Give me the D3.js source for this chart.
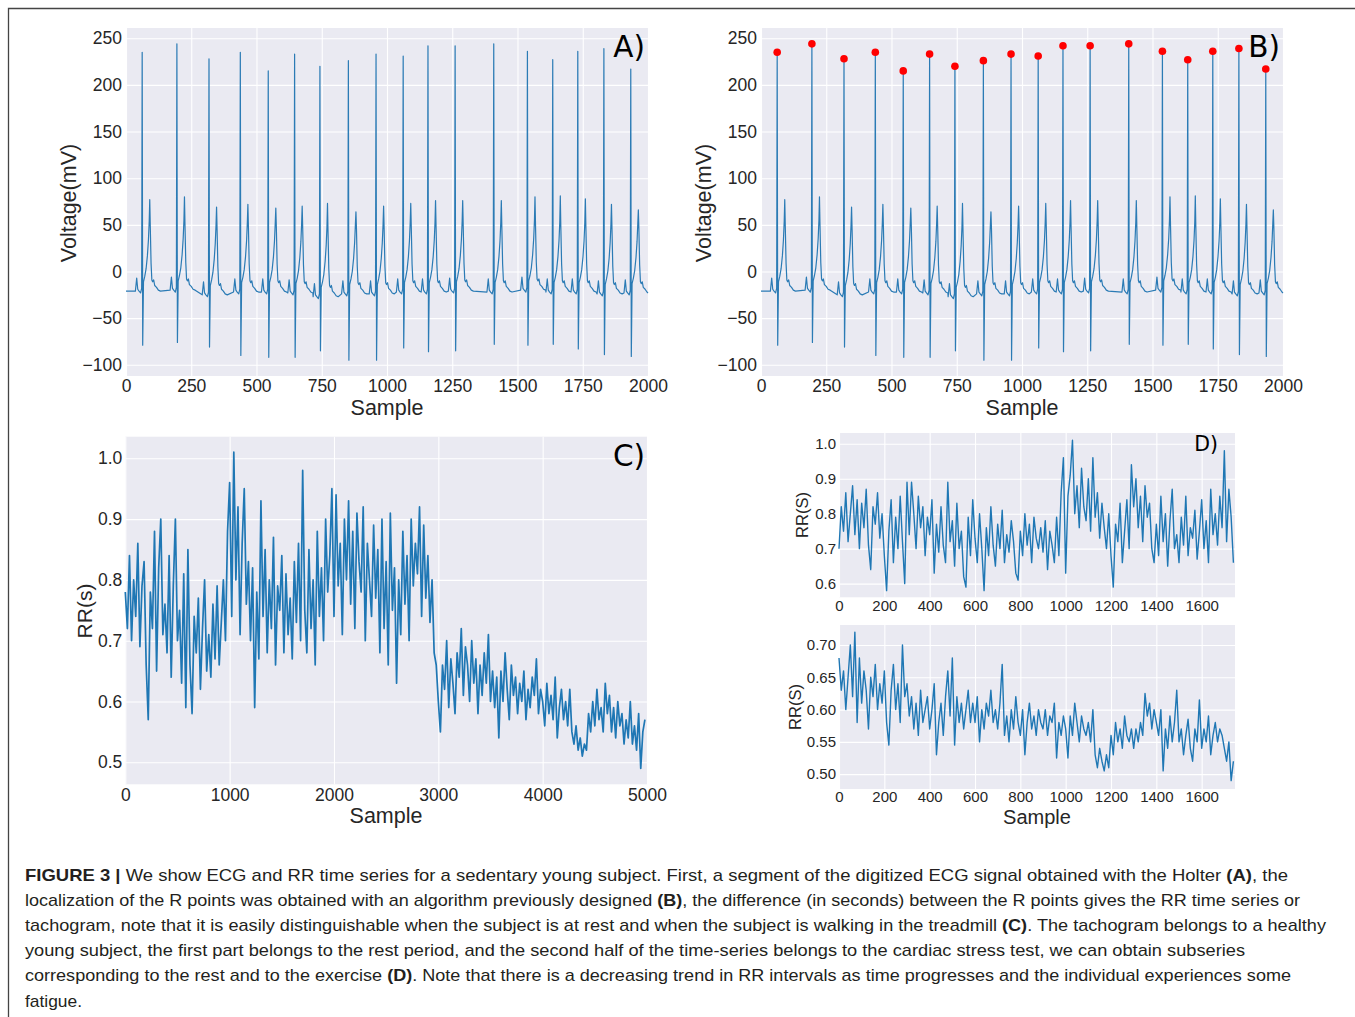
<!DOCTYPE html>
<html>
<head>
<meta charset="utf-8">
<script src="https://cdn.jsdelivr.net/npm/d3@7"></script>
<style>
body { margin: 0; background: #fff; }
svg text { font-family: "Liberation Sans", Arial, sans-serif; }
</style>
</head>
<body>
<svg id="fig" width="1355" height="1017"></svg>
<script>
// ECG segment (panels A and B): one entry per heart beat
const rPeakSample = [62, 195, 318, 438, 545, 646, 743, 852, 958, 1062, 1157, 1261, 1409, 1538, 1635, 1731, 1831, 1934];
const rPeakMv = [235, 244, 228, 235, 215, 233, 220, 226, 233, 231, 242, 242, 244, 236, 227, 236, 239, 217];
const sWaveMv = [-79, -76, -81, -90, -92, -92, -85, -95, -95, -82, -86, -85, -78, -79, -78, -83, -89, -91];
const tWaveMv = [77, 80, 69, 72, 68, 70, 73, 64, 70, 73, 76, 76, 76, 80, 81, 78, 72, 66];
const baselineMv = [-21, -20, -25, -22, -22, -23, -27, -24, -24, -22, -22, -21, -22, -20, -22, -22, -24, -23];
// shape of one beat: offset from R (samples) and level above baseline (mV)
const beatOffset = [-26, -21, -17, -12, -6, -2, 0, 2, 5, 10, 15, 20, 24, 27, 29, 31, 34, 37, 40, 44, 48, 55, 62, 70];
const beatShape = [0, 14, 2, 0, -2, 3, "R", "S", 10, 16, 24, 38, 55, 75, "T", 70, 30, 12, 10, 12, 6, 4, 1, 0];

// RR tachogram (panel C), one value every 20 samples
const rrStep = 20;
const rrAll = [
  0.78,0.72,0.84,0.70,0.80,0.74,0.86,0.69,0.79,0.83,
  0.66,0.57,0.78,0.72,0.88,0.65,0.82,0.90,0.71,0.76,
  0.68,0.84,0.64,0.79,0.90,0.70,0.75,0.63,0.81,0.59,
  0.85,0.66,0.58,0.74,0.68,0.77,0.62,0.72,0.80,0.65,
  0.71,0.64,0.76,0.67,0.79,0.66,0.73,0.80,0.70,0.88,
  0.96,0.74,1.01,0.80,0.92,0.71,0.86,0.95,0.76,0.83,
  0.70,0.82,0.59,0.78,0.67,0.93,0.74,0.85,0.68,0.80,
  0.72,0.87,0.66,0.79,0.75,0.84,0.68,0.81,0.71,0.77,
  0.67,0.83,0.73,0.86,0.70,0.98,0.75,0.68,0.85,0.72,
  0.80,0.66,0.88,0.74,0.82,0.70,0.90,0.78,0.84,0.95,
  0.74,0.94,0.79,0.86,0.71,0.90,0.80,0.93,0.76,0.88,
  0.72,0.91,0.83,0.78,0.92,0.70,0.86,0.80,0.74,0.89,
  0.77,0.85,0.68,0.90,0.72,0.83,0.66,0.91,0.75,0.82,
  0.63,0.80,0.71,0.88,0.76,0.84,0.70,0.90,0.79,0.86,
  0.81,0.92,0.74,0.89,0.77,0.84,0.73,0.80,0.68,0.66,
  0.60,0.55,0.66,0.62,0.70,0.59,0.67,0.63,0.58,0.68,
  0.64,0.72,0.61,0.69,0.66,0.60,0.70,0.63,0.67,0.58,
  0.66,0.61,0.68,0.63,0.71,0.60,0.65,0.59,0.64,0.54,
  0.65,0.60,0.68,0.62,0.57,0.66,0.61,0.64,0.58,0.63,
  0.60,0.65,0.57,0.62,0.59,0.64,0.61,0.67,0.58,0.62,
  0.60,0.56,0.63,0.58,0.61,0.57,0.64,0.54,0.59,0.62,
  0.57,0.60,0.56,0.62,0.55,0.53,0.56,0.52,0.54,0.51,
  0.53,0.52,0.58,0.55,0.60,0.56,0.62,0.57,0.59,0.55,
  0.63,0.58,0.61,0.55,0.59,0.54,0.60,0.56,0.58,0.53,
  0.57,0.54,0.60,0.53,0.56,0.52,0.58,0.49,0.55,0.57
];

// RR subseries (panel D), one value every 10 samples
const subStep = 10;
const rrRest = [
  0.70,0.82,0.75,0.86,0.72,0.80,0.88,0.74,0.84,0.70,
  0.83,0.76,0.87,0.71,0.64,0.82,0.77,0.86,0.73,0.80,
  0.68,0.58,0.75,0.84,0.66,0.79,0.70,0.85,0.72,0.60,
  0.89,0.74,0.89,0.80,0.70,0.85,0.76,0.82,0.68,0.79,
  0.74,0.84,0.63,0.77,0.69,0.82,0.71,0.66,0.89,0.72,
  0.78,0.65,0.83,0.70,0.75,0.62,0.59,0.79,0.68,0.84,
  0.73,0.66,0.80,0.70,0.58,0.76,0.68,0.82,0.71,0.65,
  0.77,0.70,0.81,0.66,0.74,0.69,0.78,0.72,0.63,0.61,
  0.75,0.68,0.80,0.71,0.77,0.66,0.79,0.73,0.70,0.76,
  0.69,0.78,0.64,0.75,0.71,0.66,0.79,0.68,0.86,0.96,
  0.63,0.85,0.91,1.01,0.80,0.88,0.76,0.93,0.82,0.78,
  0.90,0.75,0.96,0.79,0.86,0.73,0.83,0.76,0.70,0.80,
  0.68,0.59,0.77,0.72,0.83,0.66,0.75,0.84,0.70,0.94,
  0.82,0.90,0.76,0.85,0.72,0.88,0.79,0.83,0.70,0.66,
  0.77,0.68,0.85,0.72,0.80,0.65,0.78,0.87,0.70,0.74,
  0.66,0.79,0.71,0.85,0.68,0.76,0.73,0.81,0.67,0.75,
  0.84,0.70,0.78,0.66,0.87,0.74,0.80,0.71,0.85,0.76,
  0.98,0.72,0.87,0.79,0.66
];
const rrExercise = [
  0.68,0.63,0.66,0.60,0.65,0.70,0.62,0.72,0.58,0.68,
  0.61,0.66,0.63,0.57,0.65,0.62,0.67,0.60,0.64,0.61,
  0.66,0.58,0.545,0.63,0.67,0.60,0.64,0.58,0.70,0.62,
  0.64,0.59,0.62,0.57,0.61,0.56,0.63,0.58,0.60,0.62,
  0.57,0.60,0.64,0.53,0.58,0.61,0.56,0.62,0.66,0.59,
  0.68,0.545,0.62,0.58,0.61,0.57,0.60,0.63,0.58,0.61,
  0.58,0.62,0.55,0.60,0.57,0.61,0.59,0.63,0.58,0.60,
  0.57,0.61,0.67,0.56,0.59,0.55,0.60,0.57,0.62,0.58,
  0.56,0.60,0.53,0.58,0.61,0.57,0.59,0.56,0.60,0.58,
  0.57,0.60,0.56,0.59,0.58,0.61,0.525,0.58,0.56,0.59,
  0.57,0.525,0.59,0.56,0.61,0.58,0.55,0.59,0.57,0.56,
  0.58,0.55,0.60,0.53,0.51,0.54,0.52,0.505,0.53,0.51,
  0.56,0.53,0.58,0.55,0.57,0.54,0.59,0.56,0.55,0.57,
  0.54,0.57,0.55,0.58,0.56,0.625,0.59,0.61,0.57,0.60,
  0.58,0.56,0.60,0.505,0.57,0.54,0.59,0.55,0.58,0.63,
  0.55,0.57,0.53,0.56,0.585,0.54,0.52,0.57,0.55,0.615,
  0.54,0.57,0.55,0.59,0.53,0.56,0.58,0.55,0.57,0.56,
  0.54,0.52,0.55,0.49,0.52
];

const ecgXTicks = d3.range(0, 2001, 250);
const ecgYTicks = [-100, -50, 0, 50, 100, 150, 200, 250];
const rrXTicks = [0, 1000, 2000, 3000, 4000, 5000];
const rrYTicks = [0.5, 0.6, 0.7, 0.8, 0.9, 1.0];
const subXTicks = d3.range(0, 1601, 200);
const restYTicks = [0.6, 0.7, 0.8, 0.9, 1.0];
const exerciseYTicks = [0.50, 0.55, 0.60, 0.65, 0.70];

const captionLines = [
  [["FIGURE 3 | ", true], ["We show ECG and RR time series for a sedentary young subject. First, a segment of the digitized ECG signal obtained with the Holter ", false], ["(A)", true], [", the", false]],
  [["localization of the R points was obtained with an algorithm previously designed ", false], ["(B)", true], [", the difference (in seconds) between the R points gives the RR time series or", false]],
  [["tachogram, note that it is easily distinguishable when the subject is at rest and when the subject is walking in the treadmill ", false], ["(C)", true], [". The tachogram belongs to a healthy", false]],
  [["young subject, the first part belongs to the rest period, and the second half of the time-series belongs to the cardiac stress test, we can obtain subseries", false]],
  [["corresponding to the rest and to the exercise ", false], ["(D)", true], [". Note that there is a decreasing trend in RR intervals as time progresses and the individual experiences some", false]],
  [["fatigue.", false]]
];
const captionEnds = [1288, 1300, 1326, 1245, 1291, 82];

const svg = d3.select("#fig");
const ink = "#262626";
const blue = "#1f77b4";

// frame of the figure
svg.append("path").attr("d", "M8.5,1017V8.5H1355").attr("fill", "none").attr("stroke", "#444").attr("stroke-width", 1.3);

function panel(box, xDomain, yDomain, xTicks, yTicks, yFmt, fs, pad) {
    let x = d3.scaleLinear().domain(xDomain).range([box.left, box.right]);
    let y = d3.scaleLinear().domain(yDomain).range([box.bottom, box.top]);
    let g = svg.append("g");
    g.append("rect").attr("x", box.left).attr("y", box.top).attr("width", box.right - box.left).attr("height", box.bottom - box.top).attr("fill", "#eaeaf2");
    let xa = g.append("g").attr("transform", "translate(0," + box.bottom + ")")
        .call(d3.axisBottom(x).tickValues(xTicks).tickFormat(d3.format("d")).tickSize(-(box.bottom - box.top)).tickPadding(pad[0]));
    let ya = g.append("g").attr("transform", "translate(" + box.left + ",0)")
        .call(d3.axisLeft(y).tickValues(yTicks).tickFormat(d3.format(yFmt)).tickSize(-(box.right - box.left)).tickPadding(pad[1]));
    [xa, ya].forEach(a => {
        a.select(".domain").remove();
        a.selectAll("line").attr("stroke", "#fff").attr("stroke-width", 1.1);
        a.selectAll("text").attr("fill", ink).style("font-size", fs + "px").style("font-family", "'Liberation Sans', Arial, sans-serif");
    });
    return {g: g, x: x, y: y};
}

function label(txt, x, y, fs, rotate) {
    let t = svg.append("text").attr("transform", "translate(" + x + "," + y + ")" + (rotate ? " rotate(-90)" : ""))
        .attr("text-anchor", "middle").attr("fill", ink).style("font-size", fs + "px").text(txt);
    if (rotate) t.attr("dy", "0.35em");
    return t;
}

function panelTag(txt, right, baseline, fs) {
    svg.append("text").attr("x", right).attr("y", baseline).attr("text-anchor", "end").attr("fill", "#000")
        .style("font-size", fs + "px").style("font-family", "'DejaVu Sans', sans-serif").text(txt);
}

function buildEcg() {
    let pts = [[0, baselineMv[0]]];
    rPeakSample.forEach((r, i) => {
        let next = i < rPeakSample.length - 1 ? rPeakSample[i + 1] - 26 : 2000;
        beatOffset.forEach((off, j) => {
            let s = r + off;
            if (off > 0 && s >= next) return;
            let shape = beatShape[j];
            let v = shape === "R" ? rPeakMv[i] : shape === "S" ? sWaveMv[i] : shape === "T" ? tWaveMv[i] : baselineMv[i] + shape;
            pts.push([s, v]);
        });
    });
    pts.push([2000, baselineMv[baselineMv.length - 1]]);
    return pts;
}

const ecg = buildEcg();

// panels A and B
[126, 761].forEach((left, k) => {
    let p = panel({left: left, right: left + 522, top: 28, bottom: 376}, [0, 2000], [-112, 261], ecgXTicks, ecgYTicks, "d", 17.5, [4, 4]);
    p.g.append("path").datum(ecg).attr("fill", "none").attr("stroke", "#2b7bb5").attr("stroke-width", 1.2).attr("stroke-linejoin", "round")
        .attr("d", d3.line().x(d => p.x(d[0])).y(d => p.y(d[1])));
    if (k === 1) {
        p.g.selectAll("circle").data(rPeakSample).join("circle")
            .attr("cx", d => p.x(d)).attr("cy", (d, i) => p.y(rPeakMv[i])).attr("r", 3.8).attr("fill", "#ff0000");
    }
    label("Sample", left + 261, 414.5, 21.5);
    label("Voltage(mV)", left - 58, 203, 21.5, true);
});
panelTag("A)", 645, 56.5, 29.5);
panelTag("B)", 1280, 56.5, 29.5);

// panel C
let pc = panel({left: 125.3, right: 647, top: 436.7, bottom: 784.3}, [0, 5000], [0.4638, 1.0355], rrXTicks, rrYTicks, ".1f", 17.5, [4, 3]);
pc.g.append("path").datum(rrAll).attr("fill", "none").attr("stroke", blue).attr("stroke-width", 1.7).attr("stroke-linejoin", "round")
    .attr("d", d3.line().x((d, i) => pc.x(i * rrStep)).y(d => pc.y(d)));
label("Sample", 386, 822.5, 21.5);
label("RR(s)", 85, 611, 21, true);
panelTag("C)", 645, 466, 29.5);

// panel D, rest then exercise
let pd1 = panel({left: 839, right: 1235, top: 433, bottom: 597.3}, [0, 1747], [0.561, 1.0306], subXTicks, restYTicks, ".1f", 15, [3, 3]);
pd1.g.append("path").datum(rrRest).attr("fill", "none").attr("stroke", blue).attr("stroke-width", 1.4).attr("stroke-linejoin", "round")
    .attr("d", d3.line().x((d, i) => pd1.x(i * subStep)).y(d => pd1.y(d)));
label("RR(S)", 802, 515, 16.5, true);
panelTag("D)", 1218, 451, 20.5);

let pd2 = panel({left: 839, right: 1235, top: 625, bottom: 789}, [0, 1747], [0.477, 0.731], subXTicks, exerciseYTicks, ".2f", 15, [2, 3]);
pd2.g.append("path").datum(rrExercise).attr("fill", "none").attr("stroke", blue).attr("stroke-width", 1.4).attr("stroke-linejoin", "round")
    .attr("d", d3.line().x((d, i) => pd2.x(i * subStep)).y(d => pd2.y(d)));
label("RR(S)", 795, 707, 16.5, true);
label("Sample", 1037, 824, 20);

// caption
captionLines.forEach((line, i) => {
    let t = svg.append("text").attr("x", 25).attr("y", 880.5 + i * 25.2).attr("fill", "#231f20").style("font-size", "17px")
        .attr("textLength", captionEnds[i] - 25).attr("lengthAdjust", "spacingAndGlyphs");
    line.forEach(seg => {
        t.append("tspan").attr("font-weight", seg[1] ? "bold" : "normal").text(seg[0]);
    });
});
</script>
</body>
</html>
